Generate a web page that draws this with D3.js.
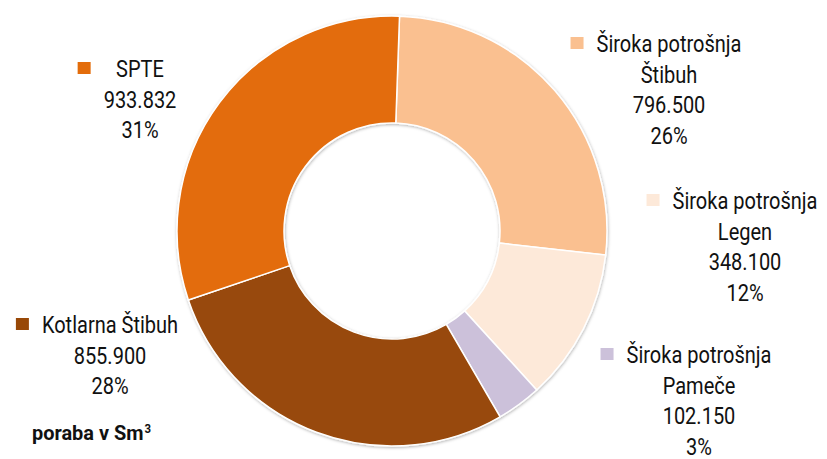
<!DOCTYPE html>
<html>
<head>
<meta charset="utf-8">
<script src="https://cdn.jsdelivr.net/npm/d3@7"></script>
<style>
	body { margin: 0; background: #fff; }
	svg text { font-family: Roboto, 'Noto Sans', sans-serif; fill: #111; }
</style>
</head>
<body>
<svg id="chart" width="827" height="459"></svg>
<script>
	// slices in clockwise order from 12 o'clock
	var names = [
		['Široka potrošnja', 'Štibuh'],
		['Široka potrošnja', 'Legen'],
		['Široka potrošnja', 'Pameče'],
		['Kotlarna Štibuh'],
		['SPTE']
	];
	var values = [796500, 348100, 102150, 855900, 933832];
	var percents = [26, 12, 3, 28, 31];
	var colors = ['#FAC090', '#FDE9D9', '#CCC1DA', '#984807', '#E36C0A'];

	// label anchors: centre of text block and first baseline
	var labelPos = [
		{x: 669, y: 52},
		{x: 745, y: 209},
		{x: 699, y: 363},
		{x: 110, y: 333},
		{x: 140, y: 77}
	];

	var svg = d3.select('#chart'),
		cx = 392,
		cy = 231,
		outerR = 215,
		innerR = 108,
		lineH = 30.5;

	var locale = d3.formatLocale({decimal: ',', thousands: '.', grouping: [3], currency: ['', ' €']});
	var fmt = locale.format(',d');

	var defs = svg.append('defs');
	defs.append('filter')
		.attr('id', 'shadow')
		.attr('x', '-10%').attr('y', '-10%')
		.attr('width', '120%').attr('height', '120%')
		.append('feDropShadow')
		.attr('dx', 0.5).attr('dy', 1)
		.attr('stdDeviation', 1.8)
		.attr('flood-color', '#000')
		.attr('flood-opacity', 0.3);

	var pie = d3.pie().sort(null)
		.startAngle(0.035)
		.endAngle(0.035 + Math.PI * 2);

	var arc = d3.arc().innerRadius(innerR).outerRadius(outerR);

	var g = svg.append('g').attr('transform', 'translate(' + cx + ',' + cy + ')');

	g.append('g').attr('filter', 'url(#shadow)')
		.selectAll('path')
		.data(pie(values))
		.enter().append('path')
		.attr('d', arc)
		.attr('fill', function(d, i) { return colors[i]; })
		.attr('stroke', '#fff')
		.attr('stroke-width', 1.5);

	// data labels with legend keys, text squeezed a bit to mimic the narrow face
	var sx = 0.87;
	values.forEach(function (v, i) {
		var p = labelPos[i],
			lines = names[i].concat([fmt(v), percents[i] + '%']);

		var lg = svg.append('g');
		var maxW = 0;
		lines.forEach(function (t, k) {
			var txt = lg.append('text')
				.attr('transform', 'translate(' + p.x + ',' + (p.y + k * lineH) + ') scale(' + sx + ',1)')
				.attr('text-anchor', 'middle')
				.attr('font-size', 23)
				.text(t);
			maxW = Math.max(maxW, txt.node().getComputedTextLength() * sx);
		});

		lg.append('rect')
			.attr('x', p.x - maxW / 2 - 13 - 13)
			.attr('y', p.y - 15)
			.attr('width', 13)
			.attr('height', 12)
			.attr('fill', colors[i]);
	});

	var unit = svg.append('text')
		.attr('transform', 'translate(32,440) scale(0.95,1)')
		.attr('font-size', 21)
		.attr('font-weight', 'bold');
	unit.append('tspan').text('poraba v Sm');
	unit.append('tspan').attr('font-size', 12).attr('dx', 1).attr('dy', -7).text('3');
</script>
</body>
</html>
